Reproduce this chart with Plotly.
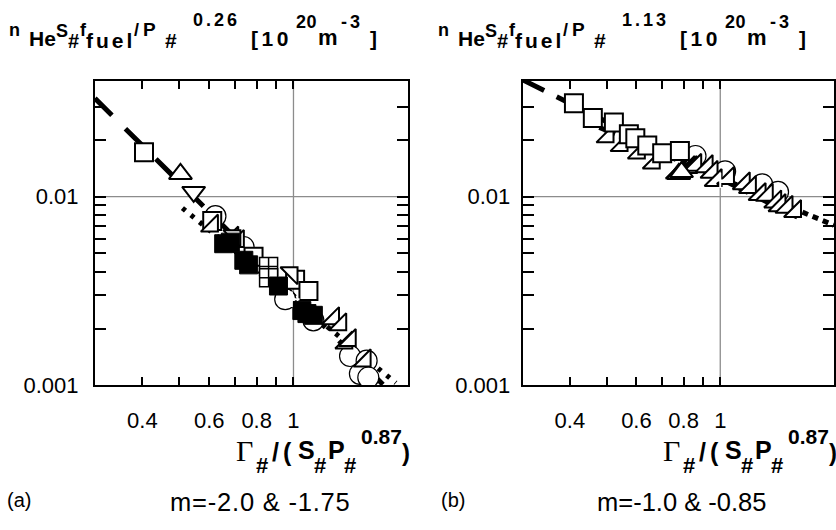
import math
import plotly.graph_objects as go

W, H = 836, 530
SANS = "Liberation Sans"
SERIF = "Liberation Serif"

# ---------------- data: panel (a) ----------------
a_sq_open_x = [0.404, 0.611, 0.785, 1.01, 1.095]
a_sq_open_y = [0.0172, 0.00743, 0.0048, 0.00363, 0.00316]
a_sq_fill_x = [0.655, 0.682, 0.74, 0.762, 0.913, 1.052, 1.085, 1.128]
a_sq_fill_y = [0.00563, 0.00574, 0.0046, 0.00435, 0.00336, 0.00249, 0.0024, 0.00235]
a_circ_x = [0.623, 0.739, 0.951, 1.128, 1.409, 1.558, 1.496, 1.574]
a_circ_y = [0.00788, 0.00541, 0.00286, 0.00221, 0.00143, 0.00135, 0.00115, 0.00110]
a_tri_se_x = [0.611, 0.691, 0.715, 1.273, 1.33, 1.38, 1.409, 1.542]
a_tri_se_y = [0.0070, 0.00604, 0.0058, 0.00226, 0.0021, 0.00168, 0.00173, 0.00135]
a_tri_ne_x = [0.99, 0.70]
a_tri_ne_y = [0.00394, 0.0062]
a_tri_up_x = [0.504]
a_tri_up_y = [0.0132]
a_tri_dn_x = [0.546]
a_tri_dn_y = [0.0106]
a_grid_x = [0.86, 0.86]
a_grid_y = [0.00427, 0.00372]
a_plus_x = [0.99]
a_plus_y = [0.00286]
a_fit1_x = [0.3, 1.72]      # m = -2.0
a_fit1_y = [0.0332, 0.00101]
a_fit2_x = [0.51, 1.86]     # m = -1.75
a_fit2_y = [0.0087, 0.00103]

# ---------------- data: panel (b) ----------------
b_sq_open_x = [0.410, 0.460, 0.523, 0.573, 0.596, 0.641, 0.702, 0.782]
b_sq_open_y = [0.0313, 0.0261, 0.0247, 0.0214, 0.0204, 0.0187, 0.0170, 0.01745]
b_circ_x = [0.86, 1.03, 1.291, 1.422]
b_circ_y = [0.01643, 0.01363, 0.01163, 0.0106]
b_tri_se_x = [0.504, 0.549, 0.610, 0.668, 0.769, 0.826, 0.837, 0.86, 0.922, 0.95,
              0.974, 1.05, 1.156, 1.2, 1.273, 1.33, 1.40, 1.437, 1.50, 1.58]
b_tri_se_y = [0.0208, 0.0187, 0.0171, 0.01512, 0.01337, 0.01429, 0.0143, 0.0147,
              0.01446, 0.0135, 0.0122, 0.0125, 0.01173, 0.0112, 0.01029, 0.0102,
              0.0094, 0.00898, 0.0088, 0.00836]
b_tri_up_x = [0.777, 0.79]
b_tri_up_y = [0.0132, 0.0135]
b_plus_x = [1.0]
b_plus_y = [0.0122]
b_fit1_x = [0.3, 1.6]       # m = -1.0
b_fit1_y = [0.0416, 0.0078]
b_fit2_x = [0.45, 2.0]      # m = -0.85
b_fit2_y = [0.0245, 0.00705]

# ---------------- axes ----------------
x_tickvals = [0.3, 0.4, 0.5, 0.6, 0.7, 0.8, 0.9, 1, 2]
x_ticktext = ["", "0.4", "", "0.6", "", "0.8", "", "1", ""]
y_tickvals = [0.001, 0.002, 0.003, 0.004, 0.005, 0.006, 0.007, 0.008, 0.009,
              0.01, 0.02, 0.03]
y_ticktext = ["0.001", "", "", "", "", "", "", "", "", "0.01", "", ""]
x_range = [0.3, 2.0]
y_range = [0.001, 0.0412]

exponents = ["0.26", "1.13"]
captions = ["m=-2.0 & -1.75", "m=-1.0 & -0.85"]
labels = ["(a)", "(b)"]

fig = go.Figure()

def add_line(x, y, dash, xa, ya, width=5):
    fig.add_trace(go.Scatter(x=x, y=y, mode="lines", xaxis=xa, yaxis=ya,
                             line=dict(color="black", width=width, dash=dash),
                             hoverinfo="skip"))

def add_markers(x, y, symbol, size, color, lw, xa, ya, lcolor="black"):
    fig.add_trace(go.Scatter(x=x, y=y, mode="markers", xaxis=xa, yaxis=ya,
                             marker=dict(symbol=symbol, size=size, color=color,
                                         line=dict(color=lcolor, width=lw))))

# panel a
add_line(a_fit1_x, a_fit1_y, "24px,19px", "x", "y")
add_line(a_fit2_x, a_fit2_y, "4px,7px", "x", "y")
add_markers(a_circ_x, a_circ_y, "circle", 21, "white", 1.2, "x", "y")
add_markers(a_sq_open_x, a_sq_open_y, "square", 18, "white", 2, "x", "y")
add_markers(a_tri_se_x, a_tri_se_y, "triangle-se", 19, "white", 2, "x", "y")
add_markers(a_tri_ne_x, a_tri_ne_y, "triangle-ne", 19, "white", 2, "x", "y")
add_markers(a_tri_up_x, a_tri_up_y, "triangle-up", 20, "white", 2, "x", "y")
add_markers(a_tri_dn_x, a_tri_dn_y, "triangle-down", 20, "white", 2, "x", "y")
add_markers(a_grid_x, a_grid_y, "square-cross", 18, "white", 1.5, "x", "y")
add_markers(a_sq_fill_x, a_sq_fill_y, "square", 18, "black", 1, "x", "y")
add_markers(a_plus_x, a_plus_y, "cross-thin-open", 11, "white", 2, "x", "y")

# panel b
add_line(b_fit1_x, b_fit1_y, "24px,14px", "x2", "y2")
add_line(b_fit2_x, b_fit2_y, "6px,5px", "x2", "y2")
add_markers(b_circ_x, b_circ_y, "circle", 21, "white", 1.2, "x2", "y2")
add_markers(b_tri_se_x, b_tri_se_y, "triangle-se", 19, "white", 2, "x2", "y2")
add_markers(b_tri_up_x, b_tri_up_y, "triangle-up", 20, "white", 2, "x2", "y2")
add_markers(b_sq_open_x, b_sq_open_y, "square", 18, "white", 2, "x2", "y2")
add_markers(b_plus_x, b_plus_y, "cross-thin-open", 11, "white", 2, "x2", "y2")

ydom = [1 - 395 / H, 1 - 82.7 / H]
xdoms = [[95 / W, 408.3 / W], [523.3 / W, 835 / W]]
ystand = [10, 6]

def xaxis(dom, anchor):
    return dict(type="log", domain=dom, anchor=anchor,
                range=[math.log10(v) for v in x_range],
                tickmode="array", tickvals=x_tickvals, ticktext=x_ticktext,
                ticks="inside", ticklen=8, tickwidth=1.5, tickcolor="black",
                showline=True, linewidth=2, linecolor="black", mirror="ticks",
                showgrid=False, zeroline=False, ticklabelstandoff=14,
                tickfont=dict(family=SANS, size=22, color="black"))

def yaxis(anchor, standoff):
    return dict(type="log", domain=ydom, anchor=anchor,
                range=[math.log10(v) for v in y_range],
                tickmode="array", tickvals=y_tickvals, ticktext=y_ticktext,
                ticks="inside", ticklen=11, tickwidth=1.5, tickcolor="black",
                showline=True, linewidth=2, linecolor="black", mirror="ticks",
                showgrid=False, zeroline=False, ticklabelstandoff=standoff,
                tickfont=dict(family=SANS, size=22, color="black"))

fig.update_layout(
    width=W, height=H, margin=dict(l=0, r=0, t=0, b=0),
    paper_bgcolor="white", plot_bgcolor="white", showlegend=False,
    xaxis=xaxis(xdoms[0], "y"), yaxis=yaxis("x", ystand[0]),
    xaxis2=xaxis(xdoms[1], "y2"), yaxis2=yaxis("x2", ystand[1]),
)

# grid lines at x=1 and y=0.01
for xr, yr in [("x", "y"), ("x2", "y2")]:
    fig.add_shape(type="line", xref=xr, yref=yr + " domain", x0=1, x1=1, y0=0, y1=1,
                  line=dict(color="#8c8c8c", width=1.3), layer="below")
    fig.add_shape(type="line", xref=xr + " domain", yref=yr, x0=0, x1=1, y0=0.01, y1=0.01,
                  line=dict(color="#8c8c8c", width=1.3), layer="below")

def txt(x_px, base_px, s, size, bold=True, family=SANS, ls=0):
    asc = 0.3465 if family == SANS else 0.3375
    yc = base_px - asc * size
    t = s
    if ls:
        t = "<span style='letter-spacing:%spx'>%s</span>" % (ls, t)
    if bold:
        t = "<b>" + t + "</b>"
    fig.add_annotation(x=x_px / W, y=1 - yc / H, xref="paper", yref="paper",
                       xanchor="left", yanchor="middle", showarrow=False, text=t,
                       borderpad=0, font=dict(family=family, size=size, color="black"))

for i in range(2):
    o = 430 * i
    # y title
    txt(8 + o, 36.5, "n", 18)
    txt(28 + o, 47, "He", 21)
    txt(55 + o, 38.5, "S", 18)
    txt(67 + o, 48.5, "#", 20)
    txt(79 + o, 37.5, "f", 18)
    txt(85 + o, 48.5, "fuel", 21, ls=3)
    txt(133 + o, 37, "/", 18)
    txt(142 + o, 37, "P", 19)
    txt(164 + o, 48.5, "#", 21)
    txt(192 + o, 27, exponents[i], 18, ls=3)
    txt(250 + o, 46.5, "[10", 21, ls=3.5)
    txt(295 + o, 28.5, "20", 18, ls=0.5)
    txt(317 + o, 46.5, "m", 22)
    txt(340 + o, 28.5, "-3", 18, ls=3)
    txt(369 + o, 46.5, "]", 21)
    # x title
    ox = 428 * i
    txt(235 + ox, 472, "Γ", 30, bold=False, family=SERIF)
    txt(255 + ox, 485, "#", 22)
    txt(271 + ox, 472, "/", 25)
    txt(282 + ox, 472, "(", 25)
    txt(297 + ox, 470, "S", 25)
    txt(313 + ox, 485, "#", 22)
    txt(327 + ox, 470, "P", 25)
    txt(343 + ox, 485, "#", 22)
    txt(360 + ox, 455, "0.87", 21)
    txt(401 + ox, 472, ")", 24)

txt(6, 519, labels[0], 20, bold=False)
txt(441, 519, labels[1], 20, bold=False)
txt(169, 523, captions[0], 25.5, bold=False, ls=0.8)
txt(597, 523, captions[1], 25.5, bold=False)

fig.write_html("out.html")
